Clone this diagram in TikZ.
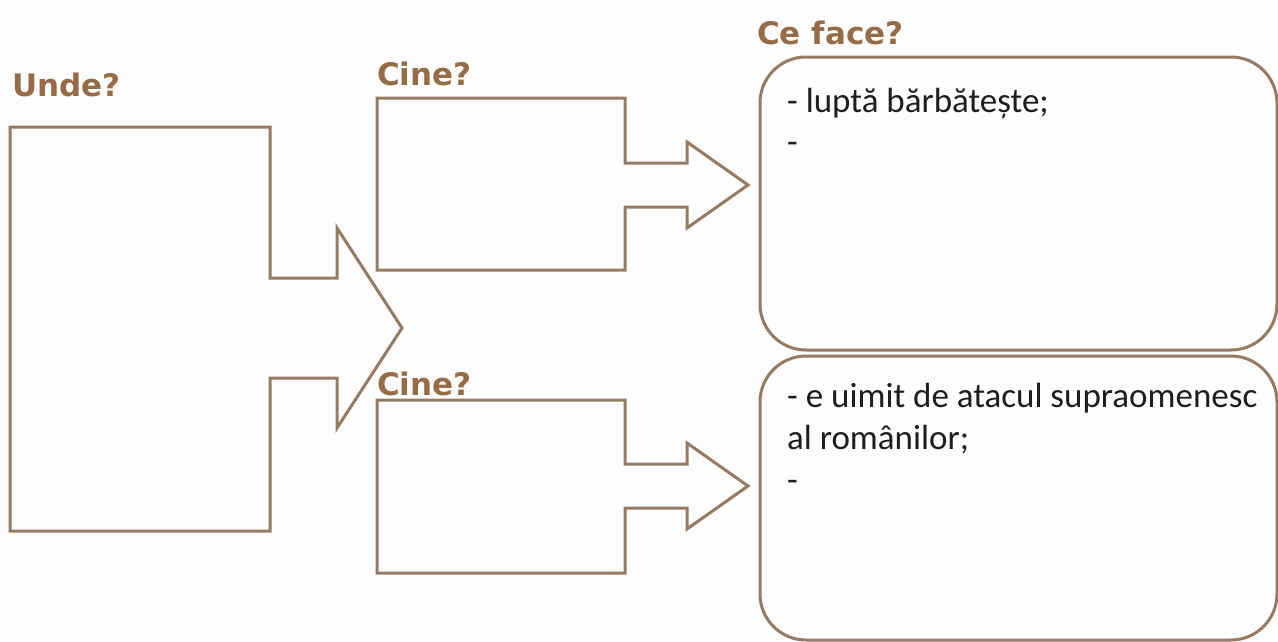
\documentclass[tikz,border=0pt]{standalone}
\usepackage{fontspec}
\setmainfont{Carlito}
\newfontfamily\titlefont{DejaVu Sans}
\definecolor{framecol}{RGB}{150,122,98}
\definecolor{titlecol}{RGB}{150,108,70}
\definecolor{bgcol}{RGB}{253,253,253}
\definecolor{textcol}{RGB}{30,30,30}
\tikzset{
  outline/.style={draw=framecol, line width=3pt, line join=miter},
  roundbox/.style={draw=framecol, line width=3pt, rounded corners=46pt},
  title/.style={font=\titlefont\bfseries\fontsize{31}{36}\selectfont, text=titlecol, anchor=base west, inner sep=0pt},
  body/.style={font=\fontsize{35}{40}\selectfont, text=textcol, anchor=base west, inner sep=0pt}
}
\begin{document}
\begin{tikzpicture}[x=1pt,y=-1pt]
\useasboundingbox (0,0) rectangle (1278,641);
\fill[bgcol] (0,0) rectangle (1278,641);
\begin{scope}
\clip (0,0) rectangle (1278,641);
% left shape (Unde?)
\draw[outline] (10,127) -- (270,127) -- (270,278) -- (337,278) -- (337,228) -- (402,328)
  -- (337,428) -- (337,378) -- (270,378) -- (270,531) -- (10,531) -- cycle;
% upper Cine shape
\draw[outline] (377,98) -- (625,98) -- (625,163) -- (687,163) -- (687,142) -- (748,185)
  -- (687,228) -- (687,207) -- (625,207) -- (625,270) -- (377,270) -- cycle;
% lower Cine shape
\draw[outline] (377,400) -- (625,400) -- (625,464) -- (687,464) -- (687,443) -- (748,486)
  -- (687,529) -- (687,508) -- (625,508) -- (625,573) -- (377,573) -- cycle;
% rounded boxes
\draw[roundbox] (760,57) rectangle (1277,350);
\draw[roundbox] (760,356) rectangle (1277,640);
\end{scope}
% titles
\node[title] (unde) at (12,96) {Unde?};
\node[title] (cine1) at (377,85) {Cine?};
\node[title] (cine2) at (377,395) {Cine?};
\node[title] (ceface) at (757,44) {Ce face?};
% texts
\node[body] (t1) at (787,112) {- luptă bărbătește;};
\node[body] (t2) at (787,153) {-};
\node[body] (t3) at (787,407) {- e uimit de atacul supraomenesc};
\node[body] (t4) at (787,449) {al românilor;};
\node[body] (t5) at (787,491) {-};
\end{tikzpicture}
\end{document}
